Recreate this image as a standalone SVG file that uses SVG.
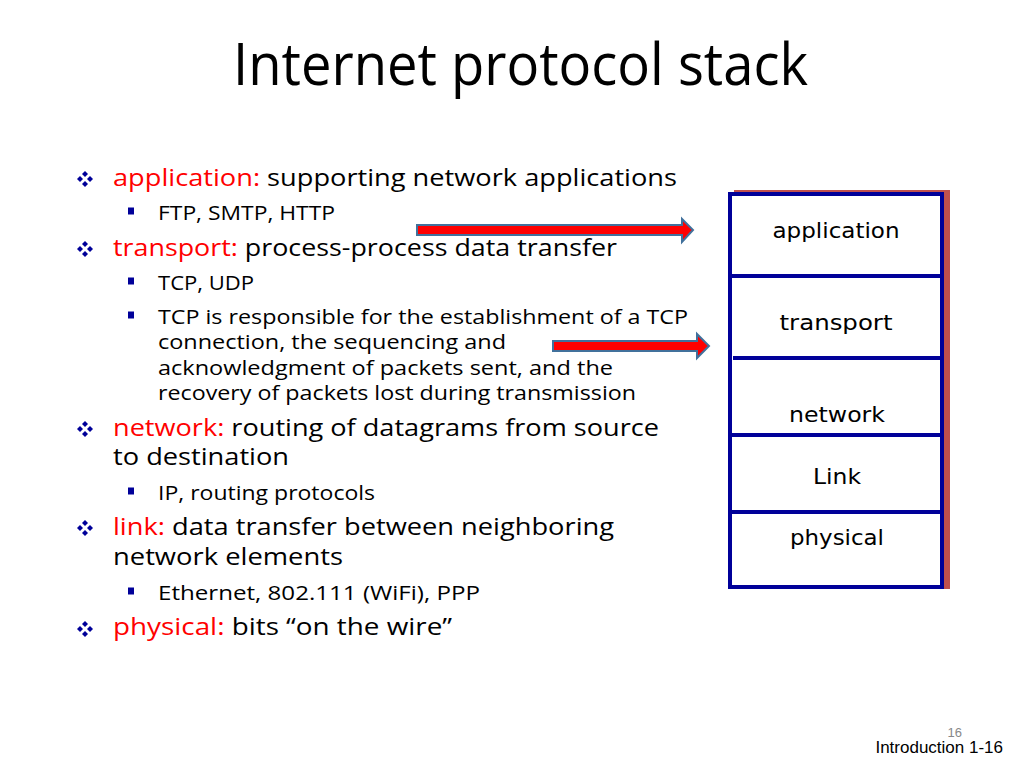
<svg xmlns="http://www.w3.org/2000/svg" xmlns:xlink="http://www.w3.org/1999/xlink" width="1024" height="768" viewBox="0 0 1024 768">
<style>
.t{font-family:"Open Sans","Liberation Sans",sans-serif;fill:#000}
.m{font-size:23.5px}
.s{font-size:20px}
.r{fill:#ff0000}
.lbl{font-family:"DejaVu Sans","Liberation Sans",sans-serif;font-size:22px;fill:#000;text-anchor:middle}
.blue{fill:#000099}
.arr{fill:#ff0000;stroke:#41719c;stroke-width:2;stroke-linejoin:miter}
.div{stroke:#000099;stroke-width:4}
</style>
<defs>
<g id="dia" class="blue">
<path d="M0,-8 L3,-5 L0,-2 L-3,-5Z"/>
<path d="M0,8 L3,5 L0,2 L-3,5Z"/>
<path d="M-8,0 L-5,3 L-2,0 L-5,-3Z"/>
<path d="M8,0 L5,3 L2,0 L5,-3Z"/>
</g>
<rect id="sq" class="blue" x="-3" y="-3.5" width="6" height="7"/>
</defs>
<rect width="1024" height="768" fill="#fff"/>

<text class="t" x="233" y="85" font-size="58" textLength="575" lengthAdjust="spacingAndGlyphs">Internet protocol stack</text>

<g id="bullets">
<use xlink:href="#dia" x="85" y="179"/>
<use xlink:href="#dia" x="85" y="249"/>
<use xlink:href="#dia" x="85" y="429"/>
<use xlink:href="#dia" x="85" y="528"/>
<use xlink:href="#dia" x="85" y="629"/>
<use xlink:href="#sq" x="131" y="211"/>
<use xlink:href="#sq" x="131" y="281"/>
<use xlink:href="#sq" x="131" y="315"/>
<use xlink:href="#sq" x="131" y="491"/>
<use xlink:href="#sq" x="131" y="591"/>
</g>

<g id="text">
<text class="t m" x="113" y="186" textLength="564" lengthAdjust="spacingAndGlyphs"><tspan class="r">application:</tspan> supporting network applications</text>
<text class="t s" x="158" y="220" textLength="177" lengthAdjust="spacingAndGlyphs">FTP, SMTP, HTTP</text>
<text class="t m" x="113" y="256" textLength="504" lengthAdjust="spacingAndGlyphs"><tspan class="r">transport:</tspan> process-process data transfer</text>
<text class="t s" x="158" y="290" textLength="96" lengthAdjust="spacingAndGlyphs">TCP, UDP</text>
<text class="t s" x="158" y="324" textLength="530" lengthAdjust="spacingAndGlyphs">TCP is responsible for the establishment of a TCP</text>
<text class="t s" x="158" y="349" textLength="348" lengthAdjust="spacingAndGlyphs">connection, the sequencing and</text>
<text class="t s" x="158" y="375" textLength="455" lengthAdjust="spacingAndGlyphs">acknowledgment of packets sent, and the</text>
<text class="t s" x="158" y="400" textLength="478" lengthAdjust="spacingAndGlyphs">recovery of packets lost during transmission</text>
<text class="t m" x="113" y="436" textLength="546" lengthAdjust="spacingAndGlyphs"><tspan class="r">network:</tspan> routing of datagrams from source</text>
<text class="t m" x="113" y="465" textLength="176" lengthAdjust="spacingAndGlyphs">to destination</text>
<text class="t s" x="158" y="500" textLength="217" lengthAdjust="spacingAndGlyphs">IP, routing protocols</text>
<text class="t m" x="113" y="535" textLength="501" lengthAdjust="spacingAndGlyphs"><tspan class="r">link:</tspan> data transfer between neighboring</text>
<text class="t m" x="113" y="565" textLength="230" lengthAdjust="spacingAndGlyphs">network elements</text>
<text class="t s" x="158" y="600" textLength="322" lengthAdjust="spacingAndGlyphs">Ethernet, 802.111 (WiFi), PPP</text>
<text class="t m" x="113" y="635" textLength="339" lengthAdjust="spacingAndGlyphs"><tspan class="r">physical:</tspan> bits “on the wire”</text>
</g>

<g id="stack">
<rect x="734" y="190" width="216" height="399" fill="#c0504d"/>
<rect x="730" y="194" width="212" height="393" fill="#fff" stroke="#000099" stroke-width="4"/>
<line class="div" x1="730" y1="276" x2="942" y2="276"/>
<line class="div" x1="733" y1="358" x2="942" y2="358"/>
<line class="div" x1="730" y1="435" x2="942" y2="435"/>
<line class="div" x1="730" y1="512" x2="942" y2="512"/>
</g>
<g id="layer-application"><text class="lbl" x="836" y="238" textLength="127" lengthAdjust="spacingAndGlyphs">application</text></g>
<g id="layer-transport"><text class="lbl" x="836" y="330" textLength="113" lengthAdjust="spacingAndGlyphs">transport</text></g>
<g id="layer-network"><text class="lbl" x="837" y="422" textLength="96" lengthAdjust="spacingAndGlyphs">network</text></g>
<g id="layer-link"><text class="lbl" x="837" y="484" textLength="48" lengthAdjust="spacingAndGlyphs">Link</text></g>
<g id="layer-physical"><text class="lbl" x="837" y="545" textLength="94" lengthAdjust="spacingAndGlyphs">physical</text></g>

<g id="connectors">
<path class="arr" d="M417,225 L682,225 L682,219 L693,230 L682,242 L682,235 L417,235Z"/>
<path class="arr" d="M553,341 L697,341 L697,334 L709,346 L697,358 L697,351 L553,351Z"/>
</g>

<text x="962" y="737" font-family="Liberation Sans, sans-serif" font-size="13" fill="#888" text-anchor="end">16</text>
<text x="1003" y="753" font-family="Liberation Sans, sans-serif" font-size="17" fill="#000" text-anchor="end">Introduction 1-16</text>
</svg>
